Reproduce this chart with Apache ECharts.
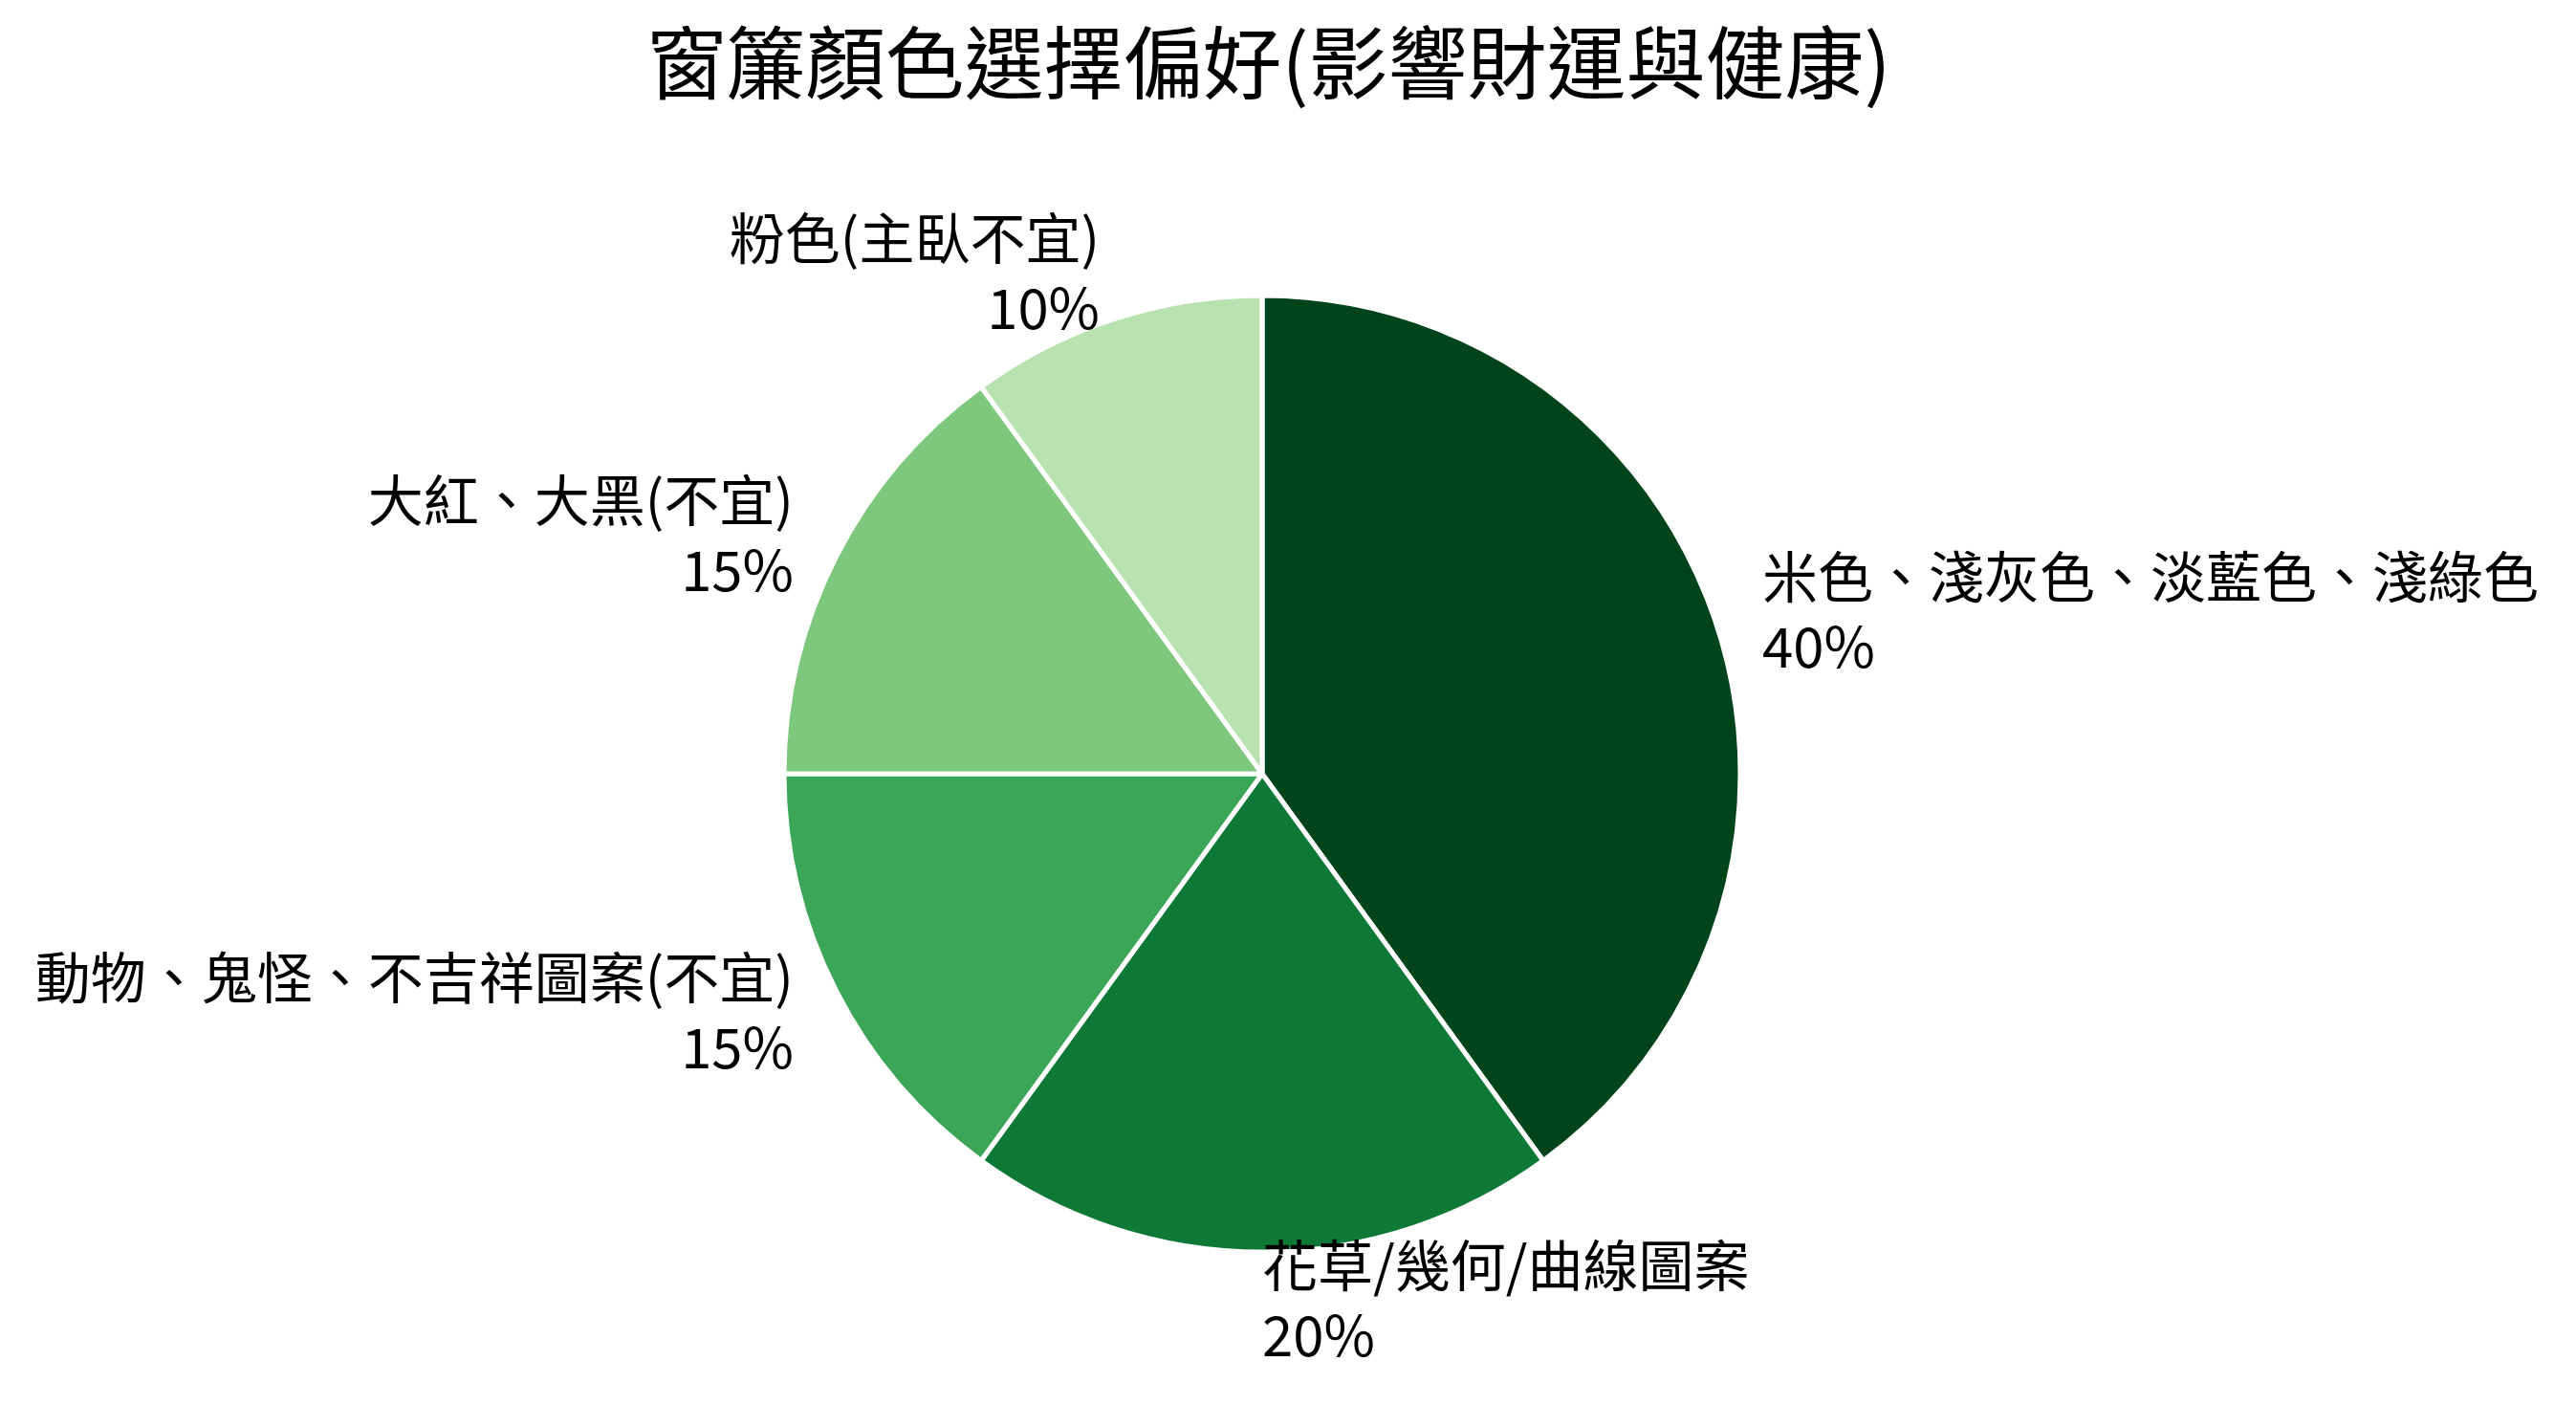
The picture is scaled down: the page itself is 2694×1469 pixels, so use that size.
<!DOCTYPE html>
<html>
<head>
<meta charset="utf-8">
<script src="https://cdn.jsdelivr.net/npm/echarts@6/dist/echarts.min.js"></script>
<style>
html,body{margin:0;padding:0;background:#fff;}
#chart{width:2694px;height:1469px;}
</style>
</head>
<body>
<div id="chart"></div>
<script>
const titleText = '窗簾顏色選擇偏好(影響財運與健康)';
const categories = ['米色、淺灰色、淡藍色、淺綠色', '花草/幾何/曲線圖案', '動物、鬼怪、不吉祥圖案(不宜)', '大紅、大黑(不宜)', '粉色(主臥不宜)'];
const values = [40, 20, 15, 15, 10];
const colors = ['#00441b', '#0e7936', '#3ba558', '#7dc87d', '#b8e3b1'];

const FONT = '"Noto Sans CJK TC", "Noto Sans CJK SC", "Noto Sans", sans-serif';
const R = 500;

const chart = echarts.init(document.getElementById('chart'), null, {renderer: 'canvas'});
chart.setOption({
  backgroundColor: '#ffffff',
  animation: false,
  title: {
    text: titleText,
    left: 1322,
    textAlign: 'center',
    top: 19,
    textStyle: {fontFamily: FONT, fontSize: 83, fontWeight: 'normal', color: '#000'}
  },
  series: [{
    type: 'pie',
    center: [1320, 809],
    radius: R,
    startAngle: 90,
    clockwise: true,
    avoidLabelOverlap: false,
    data: categories.map((c, i) => ({name: c, value: values[i], itemStyle: {color: colors[i]}})),
    itemStyle: {borderColor: '#ffffff', borderWidth: 5},
    label: {
      show: true,
      position: 'outside',
      distanceToLabelLine: 0,
      fontFamily: FONT,
      fontSize: 58,
      lineHeight: 73,
      padding: [0, 0, 10, 0],
      color: '#000',
      formatter: p => p.name + '\n' + Math.round(p.percent) + '%'
    },
    labelLine: {show: false, length: R * 0.1, length2: 0},
    emphasis: {disabled: true}
  }]
});
</script>
</body>
</html>
